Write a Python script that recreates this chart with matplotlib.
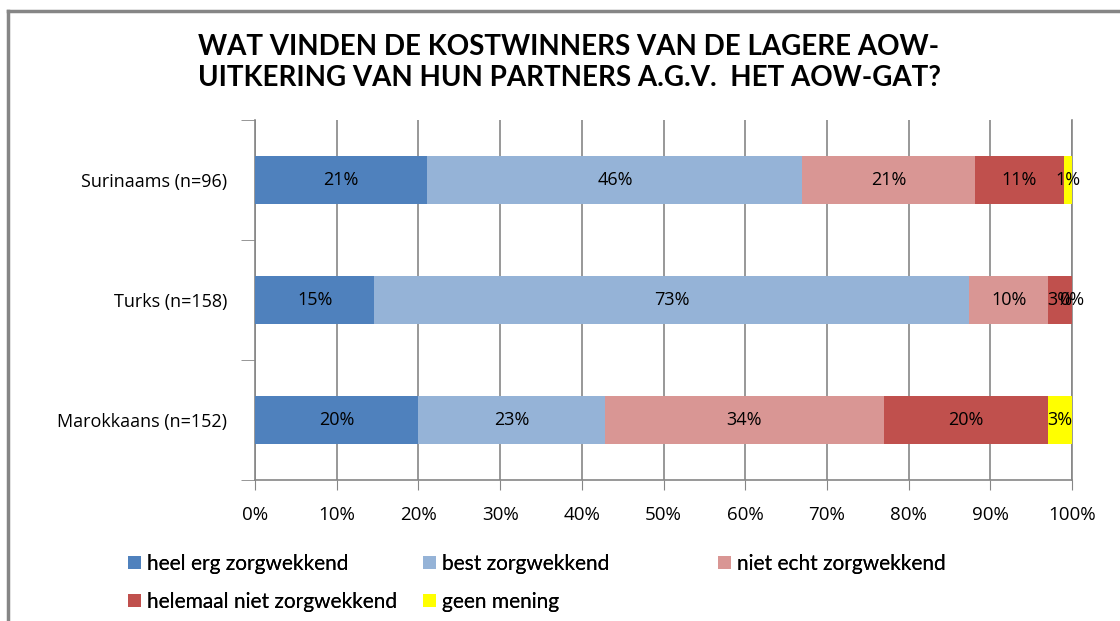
import matplotlib
matplotlib.use("Agg")
import matplotlib.pyplot as plt
from matplotlib.lines import Line2D
import numpy as np

# data (percentages per group)
groups = ["Marokkaans (n=152)", "Turks (n=158)", "Surinaams (n=96)"]
answers = ["heel erg zorgwekkend", "best zorgwekkend", "niet echt zorgwekkend",
           "helemaal niet zorgwekkend", "geen mening"]
heel_erg = [20.0, 14.6, 21.1]
best = [22.8, 72.8, 45.9]
niet_echt = [34.2, 9.7, 21.1]
helemaal_niet = [20.1, 2.9, 10.9]
geen_mening = [2.9, 0.0, 1.0]
xticks = [0, 10, 20, 30, 40, 50, 60, 70, 80, 90, 100]

series = [heel_erg, best, niet_echt, helemaal_niet, geen_mening]
colors = ["#4F81BD", "#95B3D7", "#D99694", "#C0504D", "#FFFF00"]
grey = "#868686"

fig = plt.figure(figsize=(11.2, 6.21), dpi=100)
ax = fig.add_axes([255 / 1120, 1 - 480 / 621, 817 / 1120, 360 / 621])

y = np.arange(len(groups))
left = np.zeros(len(groups))
bars = []
for vals, col, name in zip(series, colors, answers):
    b = ax.barh(y, vals, left=left, height=0.4, color=col, label=name, zorder=3)
    ax.bar_label(b, labels=["%d%%" % round(v) for v in vals], label_type="center",
                 fontsize=13, family="Open Sans", color="black", zorder=4)
    bars.append(b)
    left += np.array(vals)

ax.set_xlim(0, 100)
ax.set_ylim(-0.5, 2.5)
ax.set_xticks(xticks)
ax.set_xticklabels(["%d%%" % t for t in xticks], fontsize=13.5, family="Open Sans")
ax.set_yticks(y)
ax.set_yticklabels(groups, fontsize=13, family="Open Sans")
ax.tick_params(axis="y", length=0, pad=20)
ax.tick_params(axis="x", length=7, color=grey, pad=12)
ax.set_yticks([-0.5, 0.5, 1.5, 2.5], minor=True)
ax.tick_params(axis="y", which="minor", length=10, color=grey)

ax.grid(axis="x", color=grey, linewidth=1.2, zorder=0)
ax.spines["top"].set_visible(False)
for s in ["left", "bottom", "right"]:
    ax.spines[s].set_color(grey)
    ax.spines[s].set_linewidth(1.2)

fig.text(569 / 1120, 1 - 47 / 621, "WAT VINDEN DE KOSTWINNERS VAN DE LAGERE AOW-",
         ha="center", va="center", fontsize=20, fontweight="bold", family="Lato")
fig.text(569 / 1120, 1 - 78 / 621, "UITKERING VAN HUN PARTNERS A.G.V.  HET AOW-GAT?",
         ha="center", va="center", fontsize=20, fontweight="bold", family="Lato")

# legend: three equal-width columns like the original
columns = [[0, 3], [1, 4], [2]]
col_x = [128, 423, 718]
for idx, cx in zip(columns, col_x):
    leg = fig.legend([bars[i] for i in idx], [answers[i] for i in idx], loc="upper left",
                     bbox_to_anchor=(cx / 1120, 1 - 554 / 621), frameon=False,
                     prop={"family": "Lato", "size": 15}, handlelength=0.6,
                     handleheight=0.6, handletextpad=0.3, labelspacing=0.85,
                     borderaxespad=0, borderpad=0)
    fig.add_artist(leg)

# chart area border (left and top visible)
fig.add_artist(Line2D([8 / 1120, 8 / 1120], [0, 1 - 11 / 621], color=grey, linewidth=2.5,
                      transform=fig.transFigure))
fig.add_artist(Line2D([8 / 1120, 1], [1 - 11 / 621, 1 - 11 / 621], color=grey, linewidth=2.5,
                      transform=fig.transFigure))

fig.savefig("out.png", dpi=100)
